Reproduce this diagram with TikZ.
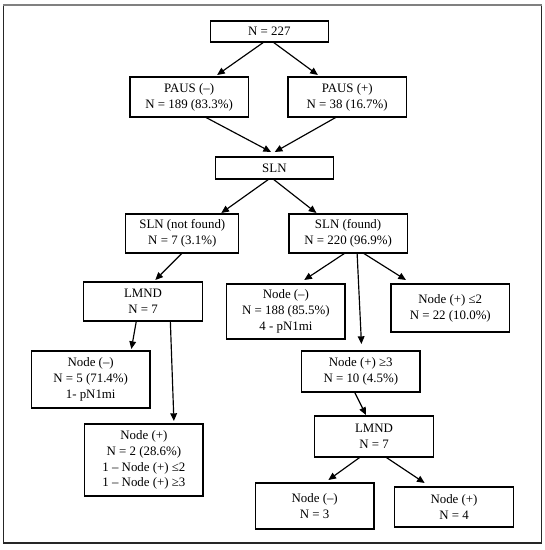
\documentclass[tikz,border=0pt]{standalone}
\usepackage{fontspec}
\setmainfont{Liberation Serif}
\usetikzlibrary{arrows.meta}

\begin{document}
\begin{tikzpicture}[
  font=\fontsize{11}{13.6}\selectfont,
  arr/.style={-{Triangle[length=2.3mm, width=2mm]}, line width=1pt},
  box/.style={draw, line width=1.1pt, minimum width=3.55cm,
              inner sep=0pt, outer sep=0pt, align=center},
]
\useasboundingbox (0,0) rectangle (16.35,16.5);

%% ── outer frame ───────────────────────────────────────────────────
\draw[black!85, line width=1pt] (0.105,16.35) rectangle (16.245,0.21);
\draw[black!50, line width=1.2pt] (0.105,16.35) -- (16.245,16.35);

%% ═══ TOP: whole cohort and PAUS ══════════════════════════════════
\node[box, minimum height=0.63cm] (all) at (8.08, 15.555) {N = 227};

\node[box, minimum height=1.2cm] (pausneg) at (5.673, 13.59)
  {PAUS (–)\\N = 189 (83.3\%)};
\node[box, minimum height=1.2cm] (pauspos) at (10.416, 13.59)
  {PAUS (+)\\N = 38 (16.7\%)};

\draw[arr] ([xshift=-0.16cm]all.south) -- ([xshift=0.84cm, yshift=0.06cm]pausneg.north);
\draw[arr] ([xshift=0.11cm]all.south)  -- ([xshift=-0.88cm, yshift=0.06cm]pauspos.north);

%% ═══ SLN ═════════════════════════════════════════════════════════
\node[box, minimum height=0.66cm] (sln) at (8.232, 11.46) {SLN};

\draw[arr] ([xshift=0.48cm]pausneg.south)  -- ([xshift=-0.1cm, yshift=0.15cm]sln.north);
\draw[arr] ([xshift=-0.32cm]pauspos.south) -- ([xshift=0.01cm, yshift=0.15cm]sln.north);

\node[box, minimum width=3.39cm, minimum height=1.17cm] (slnnf) at (5.469, 9.495)
  {SLN (not found)\\N = 7 (3.1\%)};
\node[box, minimum height=1.17cm] (slnf) at (10.443, 9.495)
  {SLN (found)\\N = 220 (96.9\%)};

\draw[arr] ([xshift=-0.16cm]sln.south) -- ([xshift=1.17cm, yshift=0.03cm]slnnf.north);
\draw[arr] ([xshift=-0.04cm]sln.south) -- ([xshift=-0.95cm, yshift=0.03cm]slnf.north);

%% ═══ LEFT: SLN not found ═════════════════════════════════════════
\node[box, minimum height=1.17cm] (lmndl) at (4.29, 7.455) {LMND\\N = 7};
\draw[arr] (slnnf.south) -- ([xshift=0.37cm, yshift=0.06cm]lmndl.north);

\node[box, minimum height=1.71cm] (negl) at (2.721, 5.115)
  {Node (–)\\N = 5 (71.4\%)\\1- pN1mi};
\node[box, minimum height=2.16cm] (posl) at (4.317, 2.7)
  {Node (+)\\N = 2 (28.6\%)\\1 – Node (+) ≤2\\1 – Node (+) ≥3};

\draw[arr] ([xshift=-0.2cm]lmndl.south) -- ([xshift=1.22cm, yshift=0.06cm]negl.north);
\draw[arr] ([xshift=0.82cm]lmndl.south) -- ([xshift=0.9cm, yshift=0.09cm]posl.north);

%% ═══ RIGHT: SLN found ════════════════════════════════════════════
\node[box, minimum height=1.65cm] (neg188) at (8.577, 7.155)
  {Node (–)\\N = 188 (85.5\%)\\4 - pN1mi};
\node[box, minimum height=1.44cm] (posle2) at (13.509, 7.26)
  {Node (+) ≤2\\N = 22 (10.0\%)};
\node[box, minimum height=1.23cm] (posge3) at (10.824, 5.355)
  {Node (+) ≥3\\N = 10 (4.5\%)};

\draw[arr] ([xshift=-0.09cm]slnf.south) -- ([xshift=0.55cm, yshift=0.12cm]neg188.north);
\draw[arr] ([xshift=0.27cm]slnf.south)  -- ([xshift=0.02cm, yshift=0.21cm]posge3.north);
\draw[arr] ([xshift=0.45cm]slnf.south)  -- ([xshift=-1.33cm, yshift=0.12cm]posle2.north);

% LMND for the >=3 group
\node[box, minimum height=1.23cm] (lmndr) at (11.22, 3.405) {LMND\\N = 7};
\draw[arr] ([xshift=-0.19cm]posge3.south) -- ([xshift=-0.24cm, yshift=0.03cm]lmndr.north);

\node[box, minimum height=1.38cm] (negr) at (9.441, 1.32) {Node (–)\\N = 3};
\node[box, minimum height=1.2cm]  (posr) at (13.62, 1.29) {Node (+)\\N = 4};

\draw[arr] ([xshift=-0.41cm]lmndr.south) -- ([xshift=0.41cm, yshift=0.09cm]negr.north);
\draw[arr] ([xshift=0.35cm]lmndr.south)  -- ([xshift=-0.88cm, yshift=0.12cm]posr.north);

\end{tikzpicture}
\end{document}
